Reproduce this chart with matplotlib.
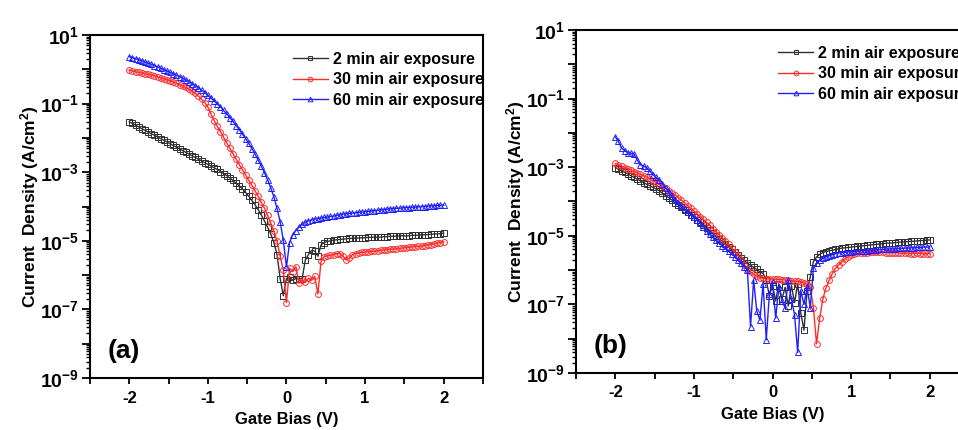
import numpy as np
import matplotlib
matplotlib.use("Agg")
import matplotlib.pyplot as plt
from matplotlib.ticker import LogLocator, FuncFormatter, MultipleLocator, NullFormatter

plt.rcParams.update({
    "font.family": ["Liberation Sans", "DejaVu Sans"],
    "font.weight": "bold",
    "axes.labelweight": "bold",
    "axes.unicode_minus": False,
    "mathtext.fontset": "custom",
    "mathtext.rm": "Liberation Sans:bold",
    "mathtext.bf": "Liberation Sans:bold",
    "mathtext.default": "bf",
    "axes.linewidth": 1.5,
})

# gate bias sweep (V), 0.04 V step
bias = np.linspace(-2.0, 2.0, 101)

# log10 of current density (A/cm^2)
# panel (a)
a_2min = [
    -1.53, -1.58, -1.63, -1.68, -1.73, -1.78, -1.83, -1.88, -1.92, -1.97,
    -2.02, -2.07, -2.12, -2.17, -2.22, -2.27, -2.32, -2.37, -2.42, -2.47,
    -2.52, -2.57, -2.62, -2.67, -2.72, -2.77, -2.82, -2.87, -2.92, -2.98,
    -3.04, -3.10, -3.17, -3.24, -3.32, -3.40, -3.49, -3.59, -3.70, -3.82,
    -3.95, -4.09, -4.25, -4.42, -4.60, -4.80, -5.05, -5.40, -6.10, -6.60,
    -6.10, -6.05, -6.15, -6.10, -6.12, -6.10, -5.56, -5.40, -5.28, -5.30,
    -5.45, -5.12, -5.05, -5.02, -5.00, -4.98, -4.97, -4.96, -4.95, -4.94,
    -4.93, -4.93, -4.92, -4.92, -4.91, -4.91, -4.90, -4.90, -4.89, -4.90,
    -4.89, -4.88, -4.88, -4.87, -4.87, -4.86, -4.86, -4.85, -4.86, -4.85,
    -4.84, -4.84, -4.83, -4.83, -4.82, -4.82, -4.81, -4.80, -4.80, -4.79,
    -4.78]
a_30min = [
    -0.02, -0.05, -0.07, -0.09, -0.11, -0.13, -0.15, -0.17, -0.19, -0.22,
    -0.25, -0.28, -0.31, -0.34, -0.37, -0.41, -0.45, -0.49, -0.53, -0.58,
    -0.63, -0.70, -0.78, -0.87, -0.97, -1.10, -1.30, -1.50, -1.66, -1.82,
    -1.98, -2.14, -2.30, -2.46, -2.62, -2.78, -2.93, -3.08, -3.23, -3.38,
    -3.54, -3.70, -3.88, -4.05, -4.25, -4.48, -4.72, -5.00, -5.45, -5.85,
    -6.80, -5.80, -5.90, -5.75, -6.24, -6.14, -6.20, -6.09, -6.15, -6.04,
    -6.55, -5.60, -5.46, -5.44, -5.42, -5.40, -5.38, -5.37, -5.45, -5.56,
    -5.50, -5.40, -5.37, -5.35, -5.34, -5.33, -5.32, -5.31, -5.30, -5.29,
    -5.28, -5.27, -5.26, -5.25, -5.24, -5.23, -5.22, -5.21, -5.20, -5.19,
    -5.18, -5.17, -5.16, -5.15, -5.14, -5.12, -5.11, -5.09, -5.07, -5.05,
    -5.03]
a_60min = [
    0.37, 0.34, 0.31, 0.28, 0.25, 0.21, 0.18, 0.15, 0.11, 0.07,
    0.03, -0.01, -0.05, -0.09, -0.13, -0.17, -0.21, -0.26, -0.31, -0.36,
    -0.42, -0.48, -0.54, -0.61, -0.68, -0.76, -0.84, -0.92, -1.01, -1.10,
    -1.20, -1.30, -1.41, -1.52, -1.64, -1.76, -1.89, -2.02, -2.16, -2.31,
    -2.47, -2.64, -2.82, -3.01, -3.22, -3.45, -3.72, -4.05, -4.45, -4.98,
    -5.76, -5.05, -4.82, -4.70, -4.60, -4.52, -4.46, -4.42, -4.39, -4.37,
    -4.35, -4.34, -4.32, -4.31, -4.29, -4.28, -4.26, -4.24, -4.22, -4.21,
    -4.20, -4.19, -4.18, -4.17, -4.16, -4.15, -4.14, -4.13, -4.12, -4.11,
    -4.10, -4.09, -4.08, -4.07, -4.06, -4.05, -4.05, -4.04, -4.03, -4.03,
    -4.02, -4.02, -4.01, -4.00, -4.00, -3.99, -3.98, -3.98, -3.97, -3.97,
    -3.96]

# panel (b)
b_2min = [
    -3.01, -3.06, -3.11, -3.15, -3.20, -3.25, -3.30, -3.35, -3.40, -3.45,
    -3.50, -3.54, -3.59, -3.64, -3.69, -3.76, -3.83, -3.89, -3.96, -4.03,
    -4.10, -4.17, -4.24, -4.31, -4.38, -4.45, -4.53, -4.60, -4.68, -4.76,
    -4.84, -4.92, -5.00, -5.08, -5.16, -5.24, -5.32, -5.40, -5.48, -5.56,
    -5.64, -5.72, -5.80, -5.86, -5.92, -5.98, -6.05, -6.10, -6.30, -6.75,
    -6.45, -6.90, -6.40, -6.85, -6.50, -7.05, -6.45, -6.95, -6.40, -7.25,
    -7.75, -6.60, -6.20, -5.75, -5.62, -5.54, -5.49, -5.46, -5.44, -5.42,
    -5.40, -5.38, -5.36, -5.35, -5.34, -5.33, -5.32, -5.31, -5.30, -5.29,
    -5.28, -5.27, -5.26, -5.25, -5.24, -5.23, -5.22, -5.21, -5.21, -5.20,
    -5.19, -5.18, -5.18, -5.17, -5.16, -5.16, -5.15, -5.14, -5.14, -5.13,
    -5.12]
b_30min = [
    -2.89, -2.93, -2.97, -3.01, -3.05, -3.09, -3.13, -3.17, -3.21, -3.25,
    -3.29, -3.34, -3.39, -3.44, -3.50, -3.56, -3.62, -3.68, -3.75, -3.82,
    -3.89, -3.96, -4.04, -4.12, -4.20, -4.28, -4.36, -4.44, -4.52, -4.61,
    -4.70, -4.79, -4.88, -4.97, -5.06, -5.15, -5.25, -5.35, -5.46, -5.58,
    -5.72, -5.85, -5.96, -6.05, -6.12, -6.18, -6.22, -6.24, -6.25, -6.26,
    -6.26, -6.27, -6.27, -6.28, -6.29, -6.30, -6.31, -6.32, -6.33, -6.35,
    -6.38, -6.42, -6.50, -7.10, -8.15, -7.40, -6.85, -6.52, -6.30, -6.10,
    -5.95, -5.85, -5.76, -5.68, -5.61, -5.56, -5.53, -5.51, -5.50, -5.49,
    -5.49, -5.48, -5.48, -5.48, -5.48, -5.48, -5.49, -5.49, -5.50, -5.49,
    -5.50, -5.51, -5.50, -5.51, -5.52, -5.52, -5.51, -5.52, -5.53, -5.52,
    -5.52]
b_60min = [
    -2.12, -2.25, -2.45, -2.52, -2.58, -2.60, -2.62, -2.80, -2.93, -2.97,
    -3.02, -3.12, -3.22, -3.30, -3.38, -3.49, -3.60, -3.72, -3.85, -3.95,
    -4.03, -4.12, -4.22, -4.30, -4.38, -4.45, -4.53, -4.63, -4.73, -4.86,
    -4.96, -5.05, -5.13, -5.21, -5.29, -5.37, -5.45, -5.53, -5.61, -5.70,
    -5.80, -5.90, -6.00, -7.65, -6.30, -7.20, -7.46, -6.40, -8.03, -6.70,
    -6.35, -7.40, -6.50, -6.90, -7.10, -6.30, -6.85, -7.30, -8.40, -6.60,
    -7.00, -6.50, -7.10, -5.95, -5.80, -5.72, -5.66, -5.62, -5.58, -5.55,
    -5.52, -5.50, -5.49, -5.48, -5.47, -5.46, -5.45, -5.45, -5.44, -5.43,
    -5.43, -5.42, -5.42, -5.41, -5.40, -5.40, -5.39, -5.39, -5.38, -5.38,
    -5.37, -5.37, -5.36, -5.36, -5.35, -5.35, -5.34, -5.34, -5.33, -5.33,
    -5.32]

labels = ["2 min air exposure", "30 min air exposure", "60 min air exposure"]
colors = ["#303030", "#ff2a2a", "#1f1fff"]
markers = ["s", "o", "^"]

fig = plt.figure(figsize=(9.58, 4.30), dpi=100)
ax_a = fig.add_axes([0.0939, 0.1209, 0.4102, 0.7977])
ax_b = fig.add_axes([0.6013, 0.1326, 0.4102, 0.7977])


def decade_label(v, pos):
    e = int(round(np.log10(v)))
    return f"$10^{{{e}}}$" if e % 2 else ""


def style(ax, tag, leg_x, leg_y):
    ax.set_yscale("log")
    ax.set_xlim(-2.5, 2.5)
    ax.set_ylim(1e-9, 1e1)
    ax.yaxis.set_major_locator(LogLocator(base=10, numticks=20))
    ax.yaxis.set_minor_locator(LogLocator(base=10, subs=np.arange(2, 10), numticks=20))
    ax.yaxis.set_major_formatter(FuncFormatter(decade_label))
    ax.yaxis.set_minor_formatter(NullFormatter())
    ax.xaxis.set_major_locator(MultipleLocator(1))
    ax.xaxis.set_minor_locator(MultipleLocator(0.5))
    ax.tick_params(axis="y", which="major", direction="out", length=6, width=1.3,
                   labelsize=14, pad=2)
    ax.tick_params(axis="y", which="minor", direction="out", length=3, width=1.0)
    ax.tick_params(axis="x", which="both", direction="out", length=4, width=1.3,
                   labelsize=12, pad=5)
    ax.set_xlabel("Gate Bias (V)", fontsize=12)
    ax.set_ylabel("Current  Density (A/cm$^2$)", fontsize=12.5)
    ax.xaxis.set_label_coords(0.5, -0.10)
    ax.yaxis.set_label_coords(-0.125, 0.5)
    ax.text(0.045, 0.08, tag, transform=ax.transAxes, fontsize=19,
            fontweight="bold", ha="left", va="center")
    ax.legend(loc="upper left", bbox_to_anchor=(leg_x, leg_y), frameon=False,
              prop={"weight": "bold", "size": 11.5}, handlelength=2.2,
              handletextpad=0.3, borderpad=0, labelspacing=0.35, numpoints=1,
              markerscale=0.8)


for ax, series, tag, lx, ly in [
    (ax_a, [a_2min, a_30min, a_60min], "(a)", 0.496, 0.975),
    (ax_b, [b_2min, b_30min, b_60min], "(b)", 0.494, 0.978),
]:
    for vals, lab, c, m in zip(series, labels, colors, markers):
        ax.plot(bias, 10.0 ** np.asarray(vals), color=c, lw=1.0, marker=m,
                ms=4.2, mfc="none", mec=c, mew=0.7, label=lab)
    style(ax, tag, lx, ly)

fig.savefig("out.png", dpi=100)
